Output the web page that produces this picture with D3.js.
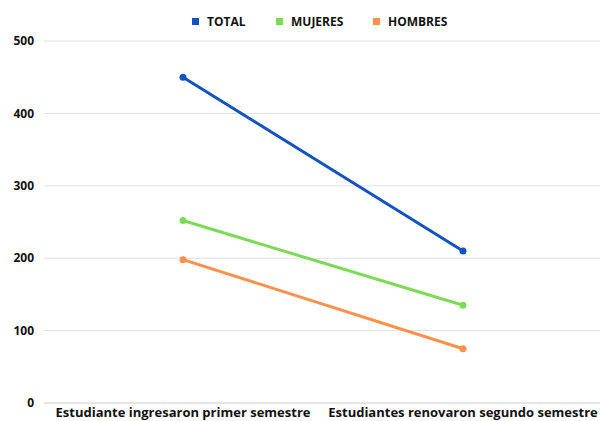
<!DOCTYPE html>
<html>
<head>
<meta charset="utf-8">
<script src="https://cdn.jsdelivr.net/npm/d3@7"></script>
<style>
  body { margin: 0; background: #fff; }
  svg { display: block; font-family: "Open Sans", sans-serif; }
</style>
</head>
<body>
<svg id="chart"></svg>
<script>
const categories = ['Estudiante ingresaron primer semestre', 'Estudiantes renovaron segundo semestre']
const seriesNames = ['TOTAL', 'MUJERES', 'HOMBRES']
const total = [450, 210]
const mujeres = [252, 135]
const hombres = [198, 75]
const yTicks = [0, 100, 200, 300, 400, 500]
const colors = ['#1353c1', '#7ed957', '#ff914d']

const width = 600
const height = 421
const margin = { top: 41, right: 0, bottom: 18, left: 44 }

const svg = d3.select('#chart').attr('width', width).attr('height', height)

const x = d3.scalePoint()
  .domain(categories)
  .range([43, 603])
  .padding(0.5)

const y = d3.scaleLinear()
  .domain([0, 500])
  .range([height - margin.bottom, margin.top])

// grid
svg.append('g')
  .selectAll('line')
  .data(yTicks)
  .join('line')
  .attr('x1', margin.left)
  .attr('x2', width)
  .attr('y1', d => y(d))
  .attr('y2', d => y(d))
  .attr('stroke', d => d === 0 ? '#c8c8c8' : '#e0e0e0')
  .attr('stroke-width', 1)

// y labels
svg.append('g')
  .selectAll('text')
  .data(yTicks)
  .join('text')
  .attr('x', 34)
  .attr('y', d => y(d))
  .attr('dy', '0.35em')
  .attr('text-anchor', 'end')
  .attr('font-size', 12)
  .attr('font-weight', 'bold')
  .attr('fill', '#111')
  .text(d => d)

// x labels
svg.append('g')
  .selectAll('text')
  .data(categories)
  .join('text')
  .attr('x', d => x(d))
  .attr('y', 417)
  .attr('text-anchor', 'middle')
  .attr('font-size', 13)
  .attr('font-weight', 'bold')
  .attr('fill', '#111')
  .text(d => d)

const series = [total, mujeres, hombres].map((vals, i) => ({
  name: seriesNames[i],
  color: colors[i],
  points: vals.map((v, j) => ({ cat: categories[j], v }))
}))

const line = d3.line().x(d => x(d.cat)).y(d => y(d.v))

const g = svg.append('g')
series.forEach(s => {
  g.append('path')
    .datum(s.points)
    .attr('d', line)
    .attr('fill', 'none')
    .attr('stroke', s.color)
    .attr('stroke-width', 3)
  g.selectAll(null)
    .data(s.points)
    .join('circle')
    .attr('cx', d => x(d.cat))
    .attr('cy', d => y(d.v))
    .attr('r', 3.5)
    .attr('fill', s.color)
})

// legend
const legendX = [192, 276, 373]
const legend = svg.append('g')
series.forEach((s, i) => {
  legend.append('rect')
    .attr('x', legendX[i])
    .attr('y', 18)
    .attr('width', 7)
    .attr('height', 7)
    .attr('fill', s.color)
  legend.append('text')
    .attr('x', legendX[i] + 15)
    .attr('y', 21.5)
    .attr('dy', '0.35em')
    .attr('font-size', 12)
    .attr('font-weight', 'bold')
    .attr('fill', '#111')
    .text(s.name)
})
</script>
</body>
</html>
